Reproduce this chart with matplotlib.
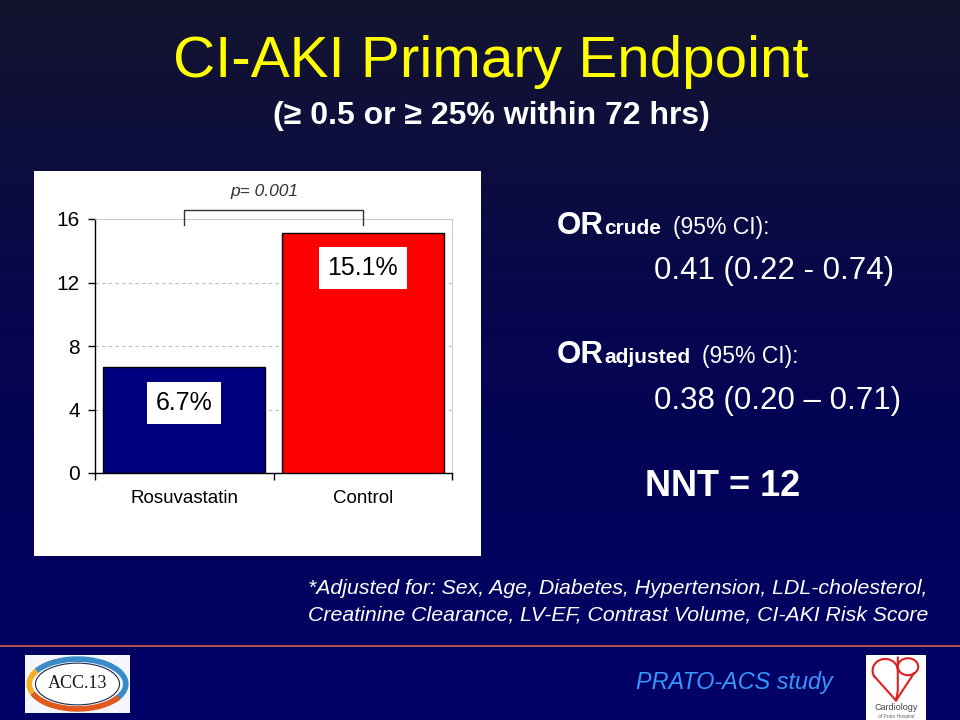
import numpy as np
import matplotlib
matplotlib.use('Agg')
import matplotlib.pyplot as plt
from matplotlib.patches import Rectangle, Arc, Ellipse
from matplotlib.lines import Line2D
from matplotlib.colors import LinearSegmentedColormap

plt.rcParams['font.family'] = ['Liberation Sans', 'DejaVu Sans']

# data
groups = ['Rosuvastatin', 'Control']
rates = [6.7, 15.1]
rate_labels = ['6.7%', '15.1%']
bar_colors = ['#000080', '#ff0000']
y_ticks = [0, 4, 8, 12, 16]
p_text = 'p= 0.001'

or_crude = '0.41 (0.22 - 0.74)'
or_adjusted = '0.38 (0.20 \u2013 0.71)'
nnt_text = 'NNT = 12'

W, H = 960, 720
fig = plt.figure(figsize=(9.6, 7.2), dpi=100)


def fx(px):
    return px / W


def fy(py):
    return 1 - py / H


# slide background
bg = fig.add_axes([0, 0, 1, 1], zorder=-10)
cmap = LinearSegmentedColormap.from_list(
    'slide', [(0.0, '#14142f'), (0.45, '#06064f'), (1.0, '#000068')])
grad = np.linspace(0, 1, 256).reshape(-1, 1)
bg.imshow(grad, aspect='auto', cmap=cmap, extent=[0, 1, 0, 1], origin='upper')
bg.set_xlim(0, 1)
bg.set_ylim(0, 1)
bg.axis('off')

# titles
fig.text(fx(491), fy(62), 'CI-AKI Primary Endpoint', color='#ffff00',
         fontsize=42, ha='center', va='center')
fig.text(fx(491), fy(116), '(\u2265 0.5 or \u2265 25% within 72 hrs)', color='white',
         fontsize=23, fontweight='bold', ha='center', va='center')

# white chart panel
fig.patches.append(Rectangle((fx(34), fy(556)), fx(447), 385 / H,
                             transform=fig.transFigure, facecolor='white',
                             edgecolor='none', zorder=-5))

ax = fig.add_axes([fx(95), fy(473), fx(357), 254 / H])
x = np.arange(len(groups))
ax.bar(x, rates, width=0.91, color=bar_colors, edgecolor='black', linewidth=1, zorder=3)
ax.set_xlim(-0.5, 1.5)
ax.set_ylim(0, 16)
ax.set_yticks(y_ticks)
ax.set_yticklabels([str(t) for t in y_ticks], fontsize=15)
ax.set_xticks(x)
ax.set_xticklabels(groups, fontsize=13.5)
ax.set_xticks([-0.5, 0.5, 1.5], minor=True)
ax.tick_params(axis='x', which='major', length=0, pad=12)
ax.tick_params(axis='x', which='minor', length=5, direction='out', width=1)
ax.tick_params(axis='y', length=5, direction='out', width=1, pad=6)
ax.yaxis.grid(True, linestyle=(0, (3, 3)), color='#bbbbbb', linewidth=0.8, zorder=0)
ax.set_axisbelow(True)
for s in ['top', 'right']:
    ax.spines[s].set_color('#cccccc')
    ax.spines[s].set_linewidth(0.8)
for s in ['left', 'bottom']:
    ax.spines[s].set_color('black')
    ax.spines[s].set_linewidth(1)

label_y = [4.4, 12.9]
for xi, yi, lab in zip(x, label_y, rate_labels):
    ax.text(xi, yi, lab, fontsize=18, ha='center', va='center', zorder=5,
            bbox=dict(boxstyle='square,pad=0.35', facecolor='white', edgecolor='none'))

# significance bracket
ax.plot([0, 0, 1, 1], [15.6, 16.55, 16.55, 15.6], color='#333333', lw=1,
        clip_on=False, zorder=5)
ax.text(0.45, 17.75, p_text, fontsize=12.5, style='italic', color='#333333',
        ha='center', va='center', clip_on=False)

# odds ratios
fig.text(fx(557), fy(234), 'OR', color='white', fontsize=22.5, fontweight='bold', va='baseline')
fig.text(fx(604), fy(234), 'crude', color='white', fontsize=15, fontweight='bold', va='baseline')
fig.text(fx(673), fy(234), '(95% CI):', color='white', fontsize=16.5, va='baseline')
fig.text(fx(654), fy(271), or_crude, color='white', fontsize=22.5, va='center')

fig.text(fx(557), fy(363), 'OR', color='white', fontsize=22.5, fontweight='bold', va='baseline')
fig.text(fx(604), fy(363), 'adjusted', color='white', fontsize=15, fontweight='bold', va='baseline')
fig.text(fx(702), fy(363), '(95% CI):', color='white', fontsize=16.5, va='baseline')
fig.text(fx(654), fy(401), or_adjusted, color='white', fontsize=22.5, va='center')

fig.text(fx(645), fy(487), nnt_text, color='white', fontsize=26, fontweight='bold', va='center')

# footnote
fig.text(fx(308), fy(588), '*Adjusted for: Sex, Age, Diabetes, Hypertension, LDL-cholesterol,',
         color='white', fontsize=15.3, style='italic', va='center')
fig.text(fx(308), fy(615), 'Creatinine Clearance, LV-EF, Contrast Volume, CI-AKI Risk Score',
         color='white', fontsize=15.3, style='italic', va='center')

# separator line
fig.add_artist(Line2D([0, 1], [fy(646), fy(646)], transform=fig.transFigure,
                      color='#d0604c', lw=1.2))

fig.text(fx(734), fy(683), 'PRATO-ACS study', color='#3399ff', fontsize=16.8,
         style='italic', ha='center', va='center')

# ACC.13 logo
lg = fig.add_axes([fx(25), fy(713), fx(105), 58 / H])
lg.set_xlim(0, 1)
lg.set_ylim(0, 1)
lg.set_facecolor('#f4f6fa')
lg.set_xticks([])
lg.set_yticks([])
for s in lg.spines.values():
    s.set_visible(False)
lg.add_patch(Arc((0.5, 0.5), 0.92, 0.86, theta1=-40, theta2=150, color='#3a8cc8', lw=4))
lg.add_patch(Arc((0.5, 0.5), 0.92, 0.86, theta1=200, theta2=330, color='#e05a1e', lw=4))
lg.add_patch(Arc((0.5, 0.5), 0.92, 0.86, theta1=150, theta2=200, color='#f0b020', lw=4))
lg.add_patch(Ellipse((0.5, 0.5), 0.8, 0.72, facecolor='white', edgecolor='#1c2a50', lw=0.8))
lg.text(0.5, 0.5, 'ACC.13', fontsize=13, family='Liberation Serif', color='#1a1a1a',
        ha='center', va='center')

# Cardiology logo
cl = fig.add_axes([fx(866), fy(720), fx(60), 65 / H])
cl.set_xlim(0, 1)
cl.set_ylim(0, 1)
cl.set_facecolor('white')
cl.set_xticks([])
cl.set_yticks([])
for s in cl.spines.values():
    s.set_visible(False)
cl.add_patch(Arc((0.32, 0.76), 0.42, 0.36, theta1=0, theta2=210, color='#e02020', lw=1.5))
cl.plot([0.13, 0.5, 0.53, 0.53], [0.68, 0.3, 0.45, 0.96], color='#e02020', lw=1.5)
cl.add_patch(Arc((0.7, 0.82), 0.34, 0.26, theta1=-200, theta2=160, color='#e02020', lw=1.5))
cl.plot([0.5, 0.8], [0.3, 0.72], color='#e02020', lw=1.5)
cl.text(0.5, 0.2, 'Cardiology', fontsize=6.5, color='#444444', ha='center', va='center')
cl.text(0.5, 0.06, 'of Prato Hospital', fontsize=3.5, color='#666666', ha='center', va='center')

fig.savefig('out.png', dpi=100)
